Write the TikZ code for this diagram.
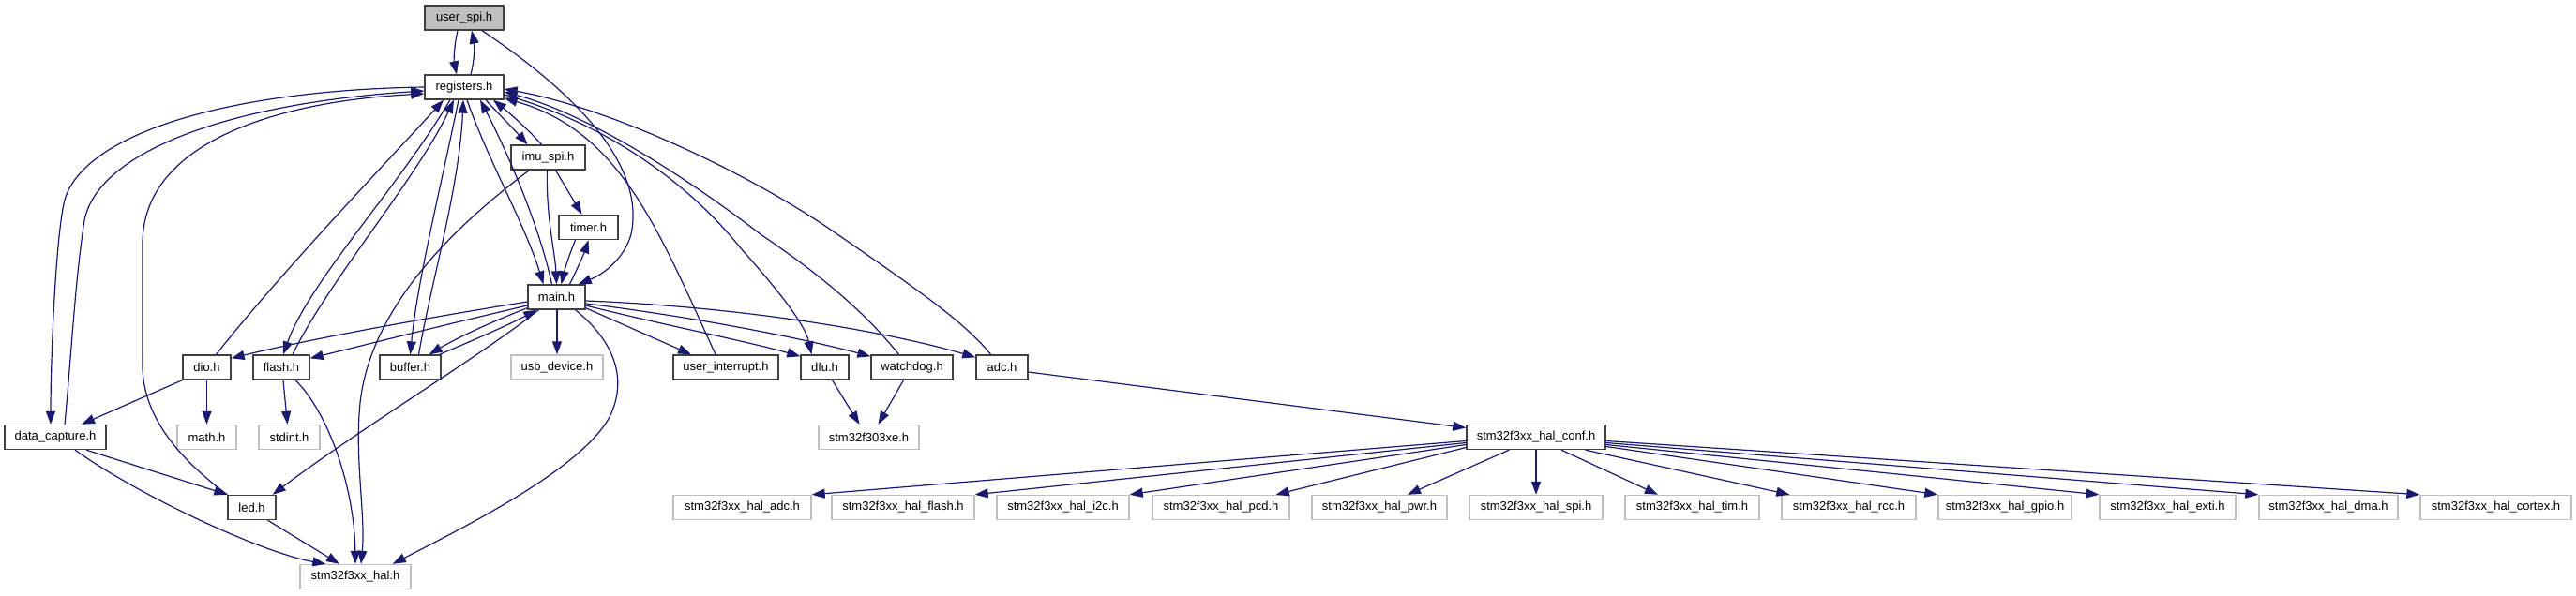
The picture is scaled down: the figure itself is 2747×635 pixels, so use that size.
\documentclass[tikz,border=0pt]{standalone}
\usepackage{fontspec}
\setmainfont{Liberation Sans}
\usetikzlibrary{arrows.meta,calc}
\definecolor{edgeblue}{HTML}{191970}
\definecolor{extgray}{HTML}{BFBFBF}
\definecolor{boxdark}{HTML}{404040}
\begin{document}
\begin{tikzpicture}[x=1pt,y=-1pt,
  box/.style={draw=boxdark,line width=1.4pt,fill=white,inner sep=0pt,minimum height=26pt,font=\fontsize{13}{15}\selectfont},
  extbox/.style={box,draw=extgray},
  cur/.style={box,fill=extgray},
  inc/.style={draw=edgeblue,line width=1.2pt,-{Triangle[length=14pt,width=10pt]}}]
\fill[white] (0,0) rectangle (2747,635);
\useasboundingbox (0,0) rectangle (2747,635);
% nodes
\node[cur,minimum width=84pt] (userspi) at (495,19) {user\_spi.h};
\node[box,minimum width=84pt] (registers) at (495,93) {registers.h};
\node[box,minimum width=79pt] (imuspi) at (584.5,168) {imu\_spi.h};
\node[box,minimum width=63pt] (timer) at (627.5,242.5) {timer.h};
\node[box,minimum width=61pt] (main) at (593.5,317) {main.h};
\node[box,minimum width=51pt] (dio) at (220.5,392) {dio.h};
\node[box,minimum width=60pt] (flash) at (300,392) {flash.h};
\node[box,minimum width=65pt] (buffer) at (437.5,392) {buffer.h};
\node[extbox,minimum width=98pt] (usbdevice) at (594,392) {usb\_device.h};
\node[box,minimum width=112pt] (userint) at (774,392) {user\_interrupt.h};
\node[box,minimum width=51pt] (dfu) at (879.5,392) {dfu.h};
\node[box,minimum width=87pt] (watchdog) at (972.5,392) {watchdog.h};
\node[box,minimum width=55pt] (adc) at (1068.5,392) {adc.h};
\node[box,minimum width=108pt] (datacap) at (59,466.5) {data\_capture.h};
\node[extbox,minimum width=63pt] (math) at (220.5,466.5) {math.h};
\node[extbox,minimum width=65pt] (stdint) at (308.5,466.5) {stdint.h};
\node[extbox,minimum width=107pt] (f303) at (926.5,466.5) {stm32f303xe.h};
\node[box,minimum width=148pt] (halconf) at (1638,466.5) {stm32f3xx\_hal\_conf.h};
\node[box,minimum width=51pt] (led) at (268.5,541.5) {led.h};
\node[extbox,minimum width=118pt] (hal) at (379,615.5) {stm32f3xx\_hal.h};
\node[extbox,minimum width=147pt] (haladc) at (791.5,541.5) {stm32f3xx\_hal\_adc.h};
\node[extbox,minimum width=152pt] (halflash) at (963,541.5) {stm32f3xx\_hal\_flash.h};
\node[extbox,minimum width=141pt] (hali2c) at (1133.5,541.5) {stm32f3xx\_hal\_i2c.h};
\node[extbox,minimum width=146pt] (halpcd) at (1302,541.5) {stm32f3xx\_hal\_pcd.h};
\node[extbox,minimum width=144pt] (halpwr) at (1471,541.5) {stm32f3xx\_hal\_pwr.h};
\node[extbox,minimum width=142pt] (halspi) at (1638,541.5) {stm32f3xx\_hal\_spi.h};
\node[extbox,minimum width=143pt] (haltim) at (1804.5,541.5) {stm32f3xx\_hal\_tim.h};
\node[extbox,minimum width=143pt] (halrcc) at (1971.5,541.5) {stm32f3xx\_hal\_rcc.h};
\node[extbox,minimum width=142pt] (halgpio) at (2138,541.5) {stm32f3xx\_hal\_gpio.h};
\node[extbox,minimum width=145pt] (halexti) at (2311.5,541.5) {stm32f3xx\_hal\_exti.h};
\node[extbox,minimum width=148pt] (haldma) at (2483,541.5) {stm32f3xx\_hal\_dma.h};
\node[extbox,minimum width=161pt] (halcortex) at (2661.5,541.5) {stm32f3xx\_hal\_cortex.h};
% user_spi
\draw[inc] ($(userspi.south)+(-7,0)$) .. controls (484,50) and (484,65) .. ($(registers.north)+(-8,0)$);
\draw[inc] ($(registers.north)+(7,0)$) .. controls (506,65) and (506,48) .. ($(userspi.south)+(8,0)$);
\draw[inc] ($(userspi.south)+(19,0)$) .. controls (600,90) and (690,170) .. (673,250) .. controls (666,275) and (645,292) .. ($(main.north east)+(-8,0)$);
% left side
\draw[inc] (registers.west) .. controls (250,96) and (95,140) .. (70,210) .. controls (60,240) and (54,380) .. ($(datacap.north)+(-5,0)$);
\draw[inc] ($(datacap.north)+(10,0)$) .. controls (76,380) and (80,300) .. (90,235) .. controls (105,160) and (250,110) .. ($(registers.west)+(0,4)$);
\draw[inc] (led.north west) .. controls (185,485) and (152,440) .. (152,390) -- (152,260) .. controls (152,150) and (300,108) .. ($(registers.west)+(0,7)$);
% registers bottom
\draw[inc] ($(dio.north)+(10,0)$) .. controls (300,290) and (420,165) .. ($(registers.south)+(-22,0)$);
\draw[inc] ($(registers.south)+(-15,0)$) .. controls (425,200) and (330,300) .. ($(flash.north)+(2,0)$);
\draw[inc] ($(flash.north)+(12,0)$) .. controls (350,300) and (445,190) .. ($(registers.south)+(-11,0)$);
\draw[inc] ($(registers.south)+(-6,0)$) .. controls (470,200) and (445,300) .. (buffer.north);
\draw[inc] ($(buffer.north)+(9,0)$) .. controls (460,300) and (490,200) .. ($(registers.south)+(-1,0)$);
\draw[inc] ($(registers.south)+(3,0)$) .. controls (520,170) and (560,240) .. ($(main.north)+(-14,0)$);
\draw[inc] ($(main.north)+(-5,0)$) .. controls (575,240) and (540,160) .. ($(registers.south)+(17,0)$);
\draw[inc] ($(registers.south)+(23,0)$) .. controls (535,125) and (550,140) .. ($(imuspi.north)+(-22,0)$);
\draw[inc] ($(imuspi.north)+(-7,0)$) .. controls (565,140) and (545,122) .. ($(registers.south)+(31,0)$);
% imu_spi
\draw[inc] ($(imuspi.south)+(-1,0)$) .. controls (582,230) and (592,270) .. (main.north);
\draw[inc] ($(imuspi.south)+(8,0)$) -- ($(timer.north)+(-7,0)$);
\draw[inc] ($(imuspi.south west)+(20,0)$) .. controls (480,245) and (395,330) .. (384,430) .. controls (378,490) and (390,550) .. ($(hal.north)+(6,0)$);
% timer
\draw[inc] ($(timer.south)+(-14,0)$) .. controls (607,272) and (602,288) .. ($(main.north)+(5,0)$);
\draw[inc] ($(main.north)+(14,0)$) .. controls (616,286) and (623,270) .. (timer.south);
% main outgoing
\draw[inc] ($(main.west)+(0,5)$) .. controls (450,340) and (330,362) .. ($(dio.north east)+(0,4)$);
\draw[inc] ($(main.west)+(0,9)$) .. controls (460,350) and (390,368) .. ($(flash.north east)+(0,4)$);
\draw[inc] ($(main.south west)+(0,-2)$) .. controls (520,345) and (485,362) .. ($(buffer.north east)+(-13,0)$);
\draw[inc] ($(buffer.north east)+(-2,0)$) .. controls (500,365) and (540,348) .. ($(main.south west)+(10,0)$);
\draw[inc] ($(main.south)+(0.5,0)$) -- (usbdevice.north);
\draw[inc] ($(main.south west)+(12,0)$) .. controls (520,375) and (380,460) .. ($(led.north east)+(-4,0)$);
\draw[inc] ($(main.south)+(20,0)$) .. controls (650,360) and (672,400) .. (650,445) .. controls (620,500) and (500,560) .. ($(hal.north east)+(-20,0)$);
\draw[inc] ($(main.south east)+(0,-2)$) -- ($(userint.north)+(-37,0)$);
\draw[inc] ($(main.east)+(0,9)$) .. controls (700,345) and (800,365) .. ($(dfu.north west)+(0,2)$);
\draw[inc] ($(main.east)+(0,7)$) .. controls (740,338) and (860,362) .. ($(watchdog.north west)+(0,2)$);
\draw[inc] ($(main.east)+(0,4)$) .. controls (800,328) and (950,355) .. ($(adc.north west)+(0,3)$);
% right side to/from registers
\draw[inc] ($(userint.north)+(-11,0)$) .. controls (700,240) and (660,140) .. ($(registers.south east)+(0,-2)$);
\draw[inc] ($(registers.east)+(0,8)$) .. controls (640,130) and (730,190) .. (790,265) .. controls (830,310) and (858,345) .. ($(dfu.north)+(-14,0)$);
\draw[inc] ($(watchdog.north)+(-14,0)$) .. controls (920,330) and (870,290) .. (811,250) .. controls (720,180) and (620,120) .. ($(registers.east)+(0,5)$);
\draw[inc] ($(adc.north)+(-12,0)$) .. controls (1030,345) and (980,310) .. (893,250) .. controls (800,185) and (650,115) .. ($(registers.east)+(0,2)$);
% lower
\draw[inc] (dio.south west) -- ($(datacap.north)+(28,0)$);
\draw[inc] (dio.south) -- (math.north);
\draw[inc] ($(flash.south)+(2,0)$) -- ($(stdint.north)+(-2,0)$);
\draw[inc] ($(flash.south)+(15,0)$) .. controls (350,440) and (378,520) .. (hal.north);
\draw[inc] ($(datacap.south)+(33,0)$) -- (led.north west);
\draw[inc] ($(datacap.south)+(21,0)$) .. controls (150,530) and (280,590) .. ($(hal.north west)+(28,0)$);
\draw[inc] ($(led.south)+(17,0)$) -- ($(hal.north)+(-17,0)$);
\draw[inc] ($(dfu.south)+(8,0)$) -- ($(f303.north)+(-10,0)$);
\draw[inc] ($(watchdog.south)+(-9,0)$) -- ($(f303.north)+(10,0)$);
\draw[inc] ($(adc.east)+(0,5)$) -- ($(halconf.west)+(0,-10)$);
% hal_conf children
\draw[inc] ($(halconf.west)+(0,4)$) -- (haladc.north east);
\draw[inc] ($(halconf.west)+(0,6)$) -- (halflash.north east);
\draw[inc] ($(halconf.west)+(0,8)$) -- (hali2c.north east);
\draw[inc] ($(halconf.west)+(0,11)$) -- ($(halpcd.north east)+(-15,0)$);
\draw[inc] ($(halconf.south west)+(46,0)$) -- ($(halpwr.north)+(30,0)$);
\draw[inc] (halconf.south) -- (halspi.north);
\draw[inc] ($(halconf.south)+(27,0)$) -- ($(haltim.north)+(-36.5,0)$);
\draw[inc] ($(halconf.south east)+(-22,0)$) -- ($(halrcc.north west)+(9,0)$);
\draw[inc] ($(halconf.east)+(0,10)$) -- (halgpio.north west);
\draw[inc] ($(halconf.east)+(0,8)$) -- (halexti.north west);
\draw[inc] ($(halconf.east)+(0,6)$) -- (haldma.north west);
\draw[inc] ($(halconf.east)+(0,4)$) -- (halcortex.north west);
\end{tikzpicture}
\end{document}
